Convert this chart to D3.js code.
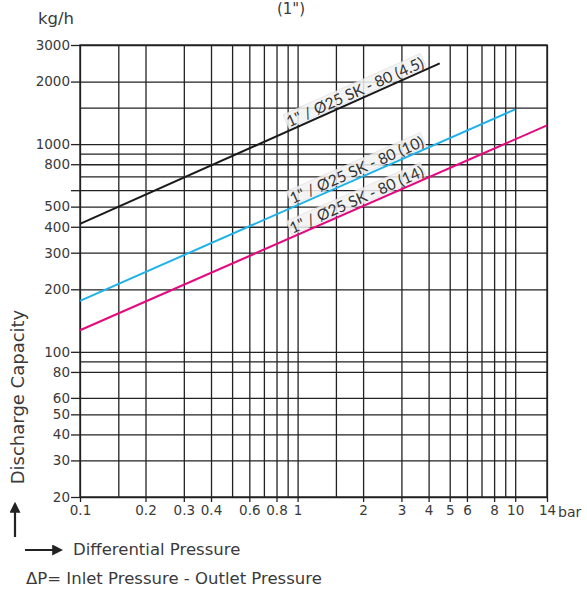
<!DOCTYPE html>
<html>
<head>
<meta charset="utf-8">
<script src="https://cdn.jsdelivr.net/npm/d3@7"></script>
<style>
  body { margin: 0; background: #fff; }
  svg { font-family: "DejaVu Sans", sans-serif; }
  .grid line { stroke: #222; stroke-width: 1.3; }
  .grid path { display: none; }
  .axis path { display: none; }
  .axis line { stroke: #222; stroke-width: 1.3; }
  .axis text { fill: #3a3a3a; font-size: 13.5px; font-family: "DejaVu Sans", sans-serif; }
</style>
</head>
<body>
<div id="chart"></div>
<script>
// pressure grid / labels (bar)
const xGrid = [0.1, 0.15, 0.2, 0.3, 0.4, 0.5, 0.6, 0.7, 0.8, 0.9, 1, 1.5, 2, 3, 4, 5, 6, 7, 8, 9, 10, 14]
const xTicks = [0.1, 0.2, 0.3, 0.4, 0.6, 0.8, 1, 2, 3, 4, 5, 6, 8, 10, 14]
// capacity grid / labels (kg/h)
const yGrid = [20, 30, 40, 50, 60, 80, 90, 100, 200, 300, 400, 500, 600, 700, 800, 900, 1000, 1500, 2000, 3000]
const yTicks = [20, 30, 40, 50, 60, 80, 100, 200, 300, 400, 500, 600, 800, 1000, 2000, 3000]
const yUnlabeled = [600]

// series: start / end points of each straight line
const seriesNames = ['1" / Ø25 SK - 80 (4.5)', '1" / Ø25 SK - 80 (10)', '1" / Ø25 SK - 80 (14)']
const seriesColors = ['#1a1a1a', '#1eb2ea', '#e5097f']
const seriesPressure = [[0.1, 4.5], [0.1, 10], [0.1, 14]]
const seriesCapacity = [[413, 2445], [176, 1470], [127, 1231]]
const labelEndPressure = [3.9, 3.9, 3.9]

const width = 587, height = 589
const margin = { top: 45, right: 40, bottom: 92, left: 80 }

const svg = d3.select('#chart').append('svg')
  .attr('width', width)
  .attr('height', height)

const x = d3.scaleLog().domain([0.1, 14]).range([margin.left, width - margin.right])
const y = d3.scaleLog().domain([20, 3000]).range([height - margin.bottom, margin.top])

//grid lines
svg.append('g')
  .attr('class', 'grid')
  .attr('transform', `translate(0,${y(20)})`)
  .call(d3.axisBottom(x).tickValues(xGrid).tickSize(-(y(20) - y(3000))).tickFormat(''))

svg.append('g')
  .attr('class', 'grid')
  .attr('transform', `translate(${x(0.1)},0)`)
  .call(d3.axisLeft(y).tickValues(yGrid).tickSize(-(x(14) - x(0.1))).tickFormat(''))

//frame
svg.append('rect')
  .attr('x', x(0.1)).attr('y', y(3000))
  .attr('width', x(14) - x(0.1)).attr('height', y(20) - y(3000))
  .attr('fill', 'none').attr('stroke', '#222').attr('stroke-width', 1.4)

//axes with labels
svg.append('g')
  .attr('class', 'axis')
  .attr('transform', `translate(0,${y(20)})`)
  .call(d3.axisBottom(x).tickValues(xTicks).tickSize(5).tickPadding(3).tickFormat(d => d3.format('~g')(d)))

svg.append('g')
  .attr('class', 'axis')
  .attr('transform', `translate(${x(0.1)},0)`)
  .call(d3.axisLeft(y).tickValues(yTicks).tickSize(9).tickPadding(1)
    .tickFormat(d => yUnlabeled.includes(d) ? '' : d))

svg.append('text')
  .attr('x', 558).attr('y', y(20) + 20)
  .attr('fill', '#3a3a3a').attr('font-size', 14)
  .text('bar')

//series lines
const line = d3.line().x(d => x(d[0])).y(d => y(d[1]))

seriesNames.forEach((name, i) => {
  const pts = seriesPressure[i].map((p, j) => [p, seriesCapacity[i][j]])
  svg.append('path')
    .datum(pts)
    .attr('d', line)
    .attr('fill', 'none')
    .attr('stroke', seriesColors[i])
    .attr('stroke-width', 2)

  // position of the label end on the line
  const [p0, p1] = seriesPressure[i]
  const [c0, c1] = seriesCapacity[i]
  const t = Math.log(labelEndPressure[i] / p0) / Math.log(p1 / p0)
  const cAt = Math.exp(Math.log(c0) + t * Math.log(c1 / c0))
  const angle = Math.atan2(y(c1) - y(c0), x(p1) - x(p0)) * 180 / Math.PI

  const g = svg.append('g')
    .attr('transform', `translate(${x(labelEndPressure[i])},${y(cAt)}) rotate(${angle})`)
  const txt = g.append('text')
    .attr('x', 0).attr('y', -3)
    .attr('text-anchor', 'end')
    .attr('fill', '#333')
    .attr('font-family', 'Lato, sans-serif')
    .attr('font-size', 15.5)
    .text(name)
  const bb = txt.node().getBBox()
  g.insert('rect', 'text')
    .attr('x', bb.x - 1).attr('y', bb.y + 1)
    .attr('width', bb.width + 2).attr('height', bb.height - 3)
    .attr('fill', '#f3f3f3').attr('opacity', 0.85)
    .attr('stroke', '#d8d8d8').attr('stroke-width', 0.6)
})

//titles and units
svg.append('text')
  .attr('x', 291).attr('y', 14)
  .attr('text-anchor', 'middle')
  .attr('fill', '#3a3a3a').attr('font-size', 15)
  .text('(1")')

svg.append('text')
  .attr('x', 38).attr('y', 24)
  .attr('fill', '#3a3a3a').attr('font-size', 16.5)
  .text('kg/h')

svg.append('text')
  .attr('transform', 'translate(24,397) rotate(-90)')
  .attr('text-anchor', 'middle')
  .attr('fill', '#3a3a3a').attr('font-size', 18)
  .text('Discharge Capacity')

//arrows
svg.append('defs').append('marker')
  .attr('id', 'head')
  .attr('viewBox', '0 0 10 10')
  .attr('refX', 8).attr('refY', 5)
  .attr('markerWidth', 5).attr('markerHeight', 5)
  .attr('orient', 'auto')
  .append('path').attr('d', 'M0,0 L10,5 L0,10 z').attr('fill', '#222')

svg.append('line')
  .attr('x1', 15).attr('y1', 537).attr('x2', 15).attr('y2', 504)
  .attr('stroke', '#222').attr('stroke-width', 2.2)
  .attr('marker-end', 'url(#head)')

svg.append('line')
  .attr('x1', 25).attr('y1', 550).attr('x2', 61).attr('y2', 550)
  .attr('stroke', '#222').attr('stroke-width', 2.2)
  .attr('marker-end', 'url(#head)')

svg.append('text')
  .attr('x', 73).attr('y', 555)
  .attr('fill', '#3a3a3a').attr('font-size', 16.5)
  .text('Differential Pressure')

svg.append('text')
  .attr('x', 26).attr('y', 584)
  .attr('fill', '#3a3a3a').attr('font-size', 16.5)
  .text('ΔP= Inlet Pressure - Outlet Pressure')
</script>
</body>
</html>
